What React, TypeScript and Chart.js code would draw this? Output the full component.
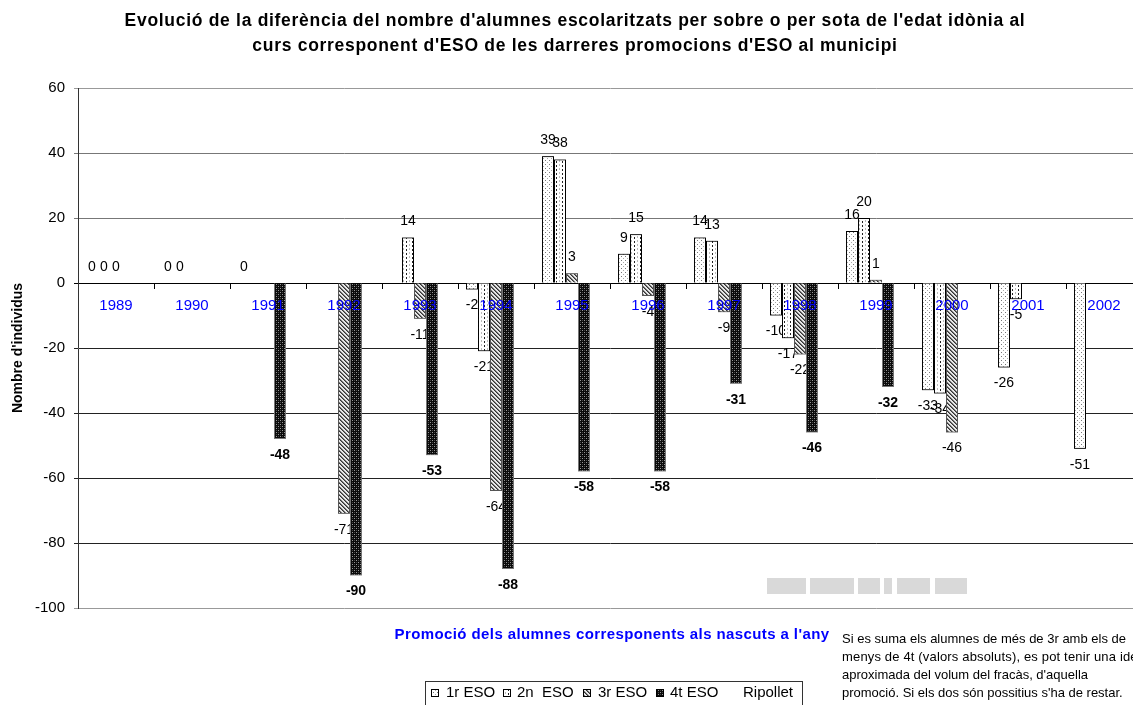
import React, { useEffect, useRef } from "react";
import { Chart, registerables } from "chart.js";
Chart.register(...registerables);

const years = ["1989", "1990", "1991", "1992", "1993", "1994", "1995", "1996", "1997", "1998", "1999", "2000", "2001", "2002"];
const eso1 = [0, 0, 0, null, null, -2, 39, 9, 14, -10, 16, -33, -26, -51];
const eso2 = [0, 0, null, null, 14, -21, 38, 15, 13, -17, 20, -34, -5, null];
const eso3 = [0, null, null, -71, -11, -64, 3, -4, -9, -22, 1, -46, null, null];
const eso4 = [null, null, -48, -90, -53, -88, -58, -58, -31, -46, -32, null, null, null];
const ripollet = [null, null, null, null, null, null, null, null, null, null, null, null, null, null];
const seriesNames = ["1r ESO", "2n  ESO", "3r ESO", "4t ESO", "Ripollet"];
const yTicks = [60, 40, 20, 0, -20, -40, -60, -80, -100];

const titleLines = [
  "Evolució de la diferència del nombre d'alumnes escolaritzats per sobre o per sota de l'edat idònia al",
  "curs corresponent d'ESO de les darreres promocions d'ESO al municipi",
];
const xTitle = "Promoció dels alumnes corresponents als nascuts a l'any";
const yTitle = "Nombre d'individus";
const noteLines = [
  "Si es suma els alumnes de més de 3r amb els de",
  "menys de 4t (valors absoluts), es pot tenir una idea",
  "aproximada del volum del fracàs, d'aquella",
  "promoció. Si els dos són possitius s'ha de restar.",
];

const FONT = "'Liberation Sans', Arial, Helvetica, sans-serif";

function makePattern(kind: number): CanvasPattern | string {
  const c = document.createElement("canvas");
  const ctx = c.getContext("2d");
  if (!ctx) return "#fff";
  const px = (x: number, y: number, col: string) => {
    ctx.fillStyle = col;
    ctx.fillRect(x, y, 1, 1);
  };
  if (kind === 0) {
    c.width = 4; c.height = 4;
    ctx.fillStyle = "#fff"; ctx.fillRect(0, 0, 4, 4);
    px(1, 0, "#777"); px(3, 2, "#aaa");
  } else if (kind === 1) {
    c.width = 6; c.height = 4;
    ctx.fillStyle = "#fff"; ctx.fillRect(0, 0, 6, 4);
    px(1, 0, "#bbb"); px(1, 1, "#bbb");
    px(4, 1, "#222"); px(4, 2, "#222");
  } else if (kind === 2) {
    c.width = 4; c.height = 4;
    ctx.fillStyle = "#e8e8e8"; ctx.fillRect(0, 0, 4, 4);
    for (let i = 0; i < 4; i++) { px(i, i, "#333"); px((i + 1) % 4, i, "#777"); }
  } else if (kind === 3) {
    c.width = 4; c.height = 4;
    ctx.fillStyle = "#0a0a0a"; ctx.fillRect(0, 0, 4, 4);
    px(0, 0, "#999"); px(2, 2, "#999"); px(2, 0, "#444"); px(0, 2, "#444");
  } else {
    c.width = 2; c.height = 2;
    ctx.fillStyle = "#fff"; ctx.fillRect(0, 0, 2, 2);
  }
  const p = ctx.createPattern(c, "repeat");
  return p || "#fff";
}

export default function App() {
  const ref = useRef<HTMLCanvasElement | null>(null);

  useEffect(() => {
    const canvas = ref.current;
    if (!canvas) return;
    const patterns = [0, 1, 2, 3, 4].map((k) => makePattern(k));
    const borders = ["#000", "#000", "#555", "#777", "#fff"];
    const dataArrays = [eso1, eso2, eso3, eso4, ripollet];

    const setSpacing = (ctx: any, v: string) => {
      if ("letterSpacing" in ctx) ctx.letterSpacing = v;
    };

    const overlay = {
      id: "overlay",
      afterDatasetsDraw(chart: any) {
        const ctx = chart.ctx as CanvasRenderingContext2D;
        ctx.save();
        // redraw bars series by series so that labels of earlier series hide behind later bars
        for (let i = 0; i < 4; i++) {
          const meta = chart.getDatasetMeta(i);
          meta.data.forEach((el: any) => el.draw(ctx));
          ctx.fillStyle = "#000";
          ctx.font = (i === 3 ? "bold " : "") + "14px " + FONT;
          ctx.textAlign = "center";
          ctx.textBaseline = "middle";
          const vals = dataArrays[i];
          meta.data.forEach((el: any, j: number) => {
            const v = vals[j];
            if (v === null || v === undefined) return;
            const y = v >= 0 ? el.y - 16 : el.y + 16;
            ctx.fillText(String(v), el.x, y);
          });
        }
        // category labels drawn on top of the bars
        const xs = chart.scales.x;
        const ys = chart.scales.y;
        const y0 = ys.getPixelForValue(0);
        ctx.fillStyle = "#0000ff";
        ctx.font = "15px " + FONT;
        ctx.textAlign = "center";
        ctx.textBaseline = "middle";
        years.forEach((lab, i) => ctx.fillText(lab, xs.getPixelForTick(i), y0 + 23));
        ctx.restore();
      },
      afterDraw(chart: any) {
        const ctx = chart.ctx as CanvasRenderingContext2D;
        ctx.save();
        // title
        ctx.fillStyle = "#000";
        ctx.font = "bold 17.5px " + FONT;
        setSpacing(ctx, "0.7px");
        ctx.textAlign = "center";
        ctx.textBaseline = "middle";
        ctx.fillText(titleLines[0], 575, 21);
        ctx.fillText(titleLines[1], 575, 46);
        // x title
        ctx.fillStyle = "#0000ff";
        ctx.font = "bold 15px " + FONT;
        setSpacing(ctx, "0.4px");
        ctx.fillText(xTitle, 612, 635);
        setSpacing(ctx, "0px");
        // watermark blocks
        ctx.fillStyle = "#d9d9d9";
        const blocks = [[767, 39], [810, 44], [858, 22], [884, 8], [897, 33], [935, 32]];
        blocks.forEach(([x, w]) => ctx.fillRect(x, 578, w, 16));
        // legend
        ctx.strokeStyle = "#333";
        ctx.lineWidth = 1;
        ctx.strokeRect(425.5, 681.5, 377, 34);
        const markerX = [431, 503, 583, 656, 0];
        const textX = [446, 517, 598, 670, 743];
        ctx.font = "15px " + FONT;
        ctx.textAlign = "left";
        ctx.fillStyle = "#000";
        for (let i = 0; i < 5; i++) {
          if (i < 4) {
            ctx.fillStyle = patterns[i] as any;
            ctx.fillRect(markerX[i], 689, 8, 8);
            ctx.strokeStyle = "#000";
            ctx.strokeRect(markerX[i] + 0.5, 689.5, 7, 7);
          }
          ctx.fillStyle = "#000";
          ctx.fillText(seriesNames[i], textX[i], 693);
        }
        // note
        ctx.font = "13px " + FONT;
        ctx.fillStyle = "#000";
        noteLines.forEach((l, k) => {
          setSpacing(ctx, k === 1 ? "0.16px" : "0px");
          ctx.fillText(l, 842, 639 + k * 18);
        });
        setSpacing(ctx, "0px");
        ctx.restore();
      },
    };

    const chart = new Chart(canvas, {
      type: "bar",
      data: {
        labels: years,
        datasets: dataArrays.map((d, i) => ({
          label: seriesNames[i],
          data: d,
          backgroundColor: patterns[i] as any,
          borderColor: borders[i],
          borderWidth: i === 4 ? 0 : 1,
          categoryPercentage: 0.79,
          barPercentage: 1,
        })),
      },
      options: {
        responsive: false,
        animation: false,
        layout: { padding: { left: 0, right: 8, top: 88, bottom: 97 } },
        plugins: {
          legend: { display: false },
          title: { display: false },
          tooltip: { enabled: false },
        },
        scales: {
          x: {
            type: "category",
            position: { y: 0 } as any,
            grid: { display: true, drawOnChartArea: false, drawTicks: true, tickLength: 5, color: "#000", offset: true },
            border: { display: true, color: "#000", width: 1 },
            ticks: { display: false, autoSkip: false },
          },
          y: {
            min: -100,
            max: 60,
            afterFit: (s: any) => { s.width = 78; },
            afterBuildTicks: (s: any) => { s.ticks = yTicks.map((v) => ({ value: v })); },
            grid: {
              drawTicks: true,
              tickLength: 4,
              color: (c: any) => {
                const v = c.tick ? c.tick.value : 0;
                if (v === 0) return "#000";
                if (v === 60 || v === -100) return "#999";
                return v > 0 ? "#777" : "#222";
              },
            },
            border: { display: true, color: "#333", width: 1 },
            ticks: { color: "#000", font: { family: FONT, size: 15 }, padding: 9 },
            title: {
              display: true,
              text: yTitle,
              color: "#000",
              font: { family: FONT, size: 14, weight: "bold" },
              padding: { top: 10, bottom: 0 },
            },
          },
        },
      },
      plugins: [overlay],
    });
    return () => chart.destroy();
  }, []);

  return (
    <div style={{ position: "absolute", left: 0, top: 0, width: 1133, height: 705, overflow: "hidden", background: "#fff" }}>
      <canvas ref={ref} width={1150} height={705} style={{ width: 1150, height: 705, display: "block" }} />
    </div>
  );
}
